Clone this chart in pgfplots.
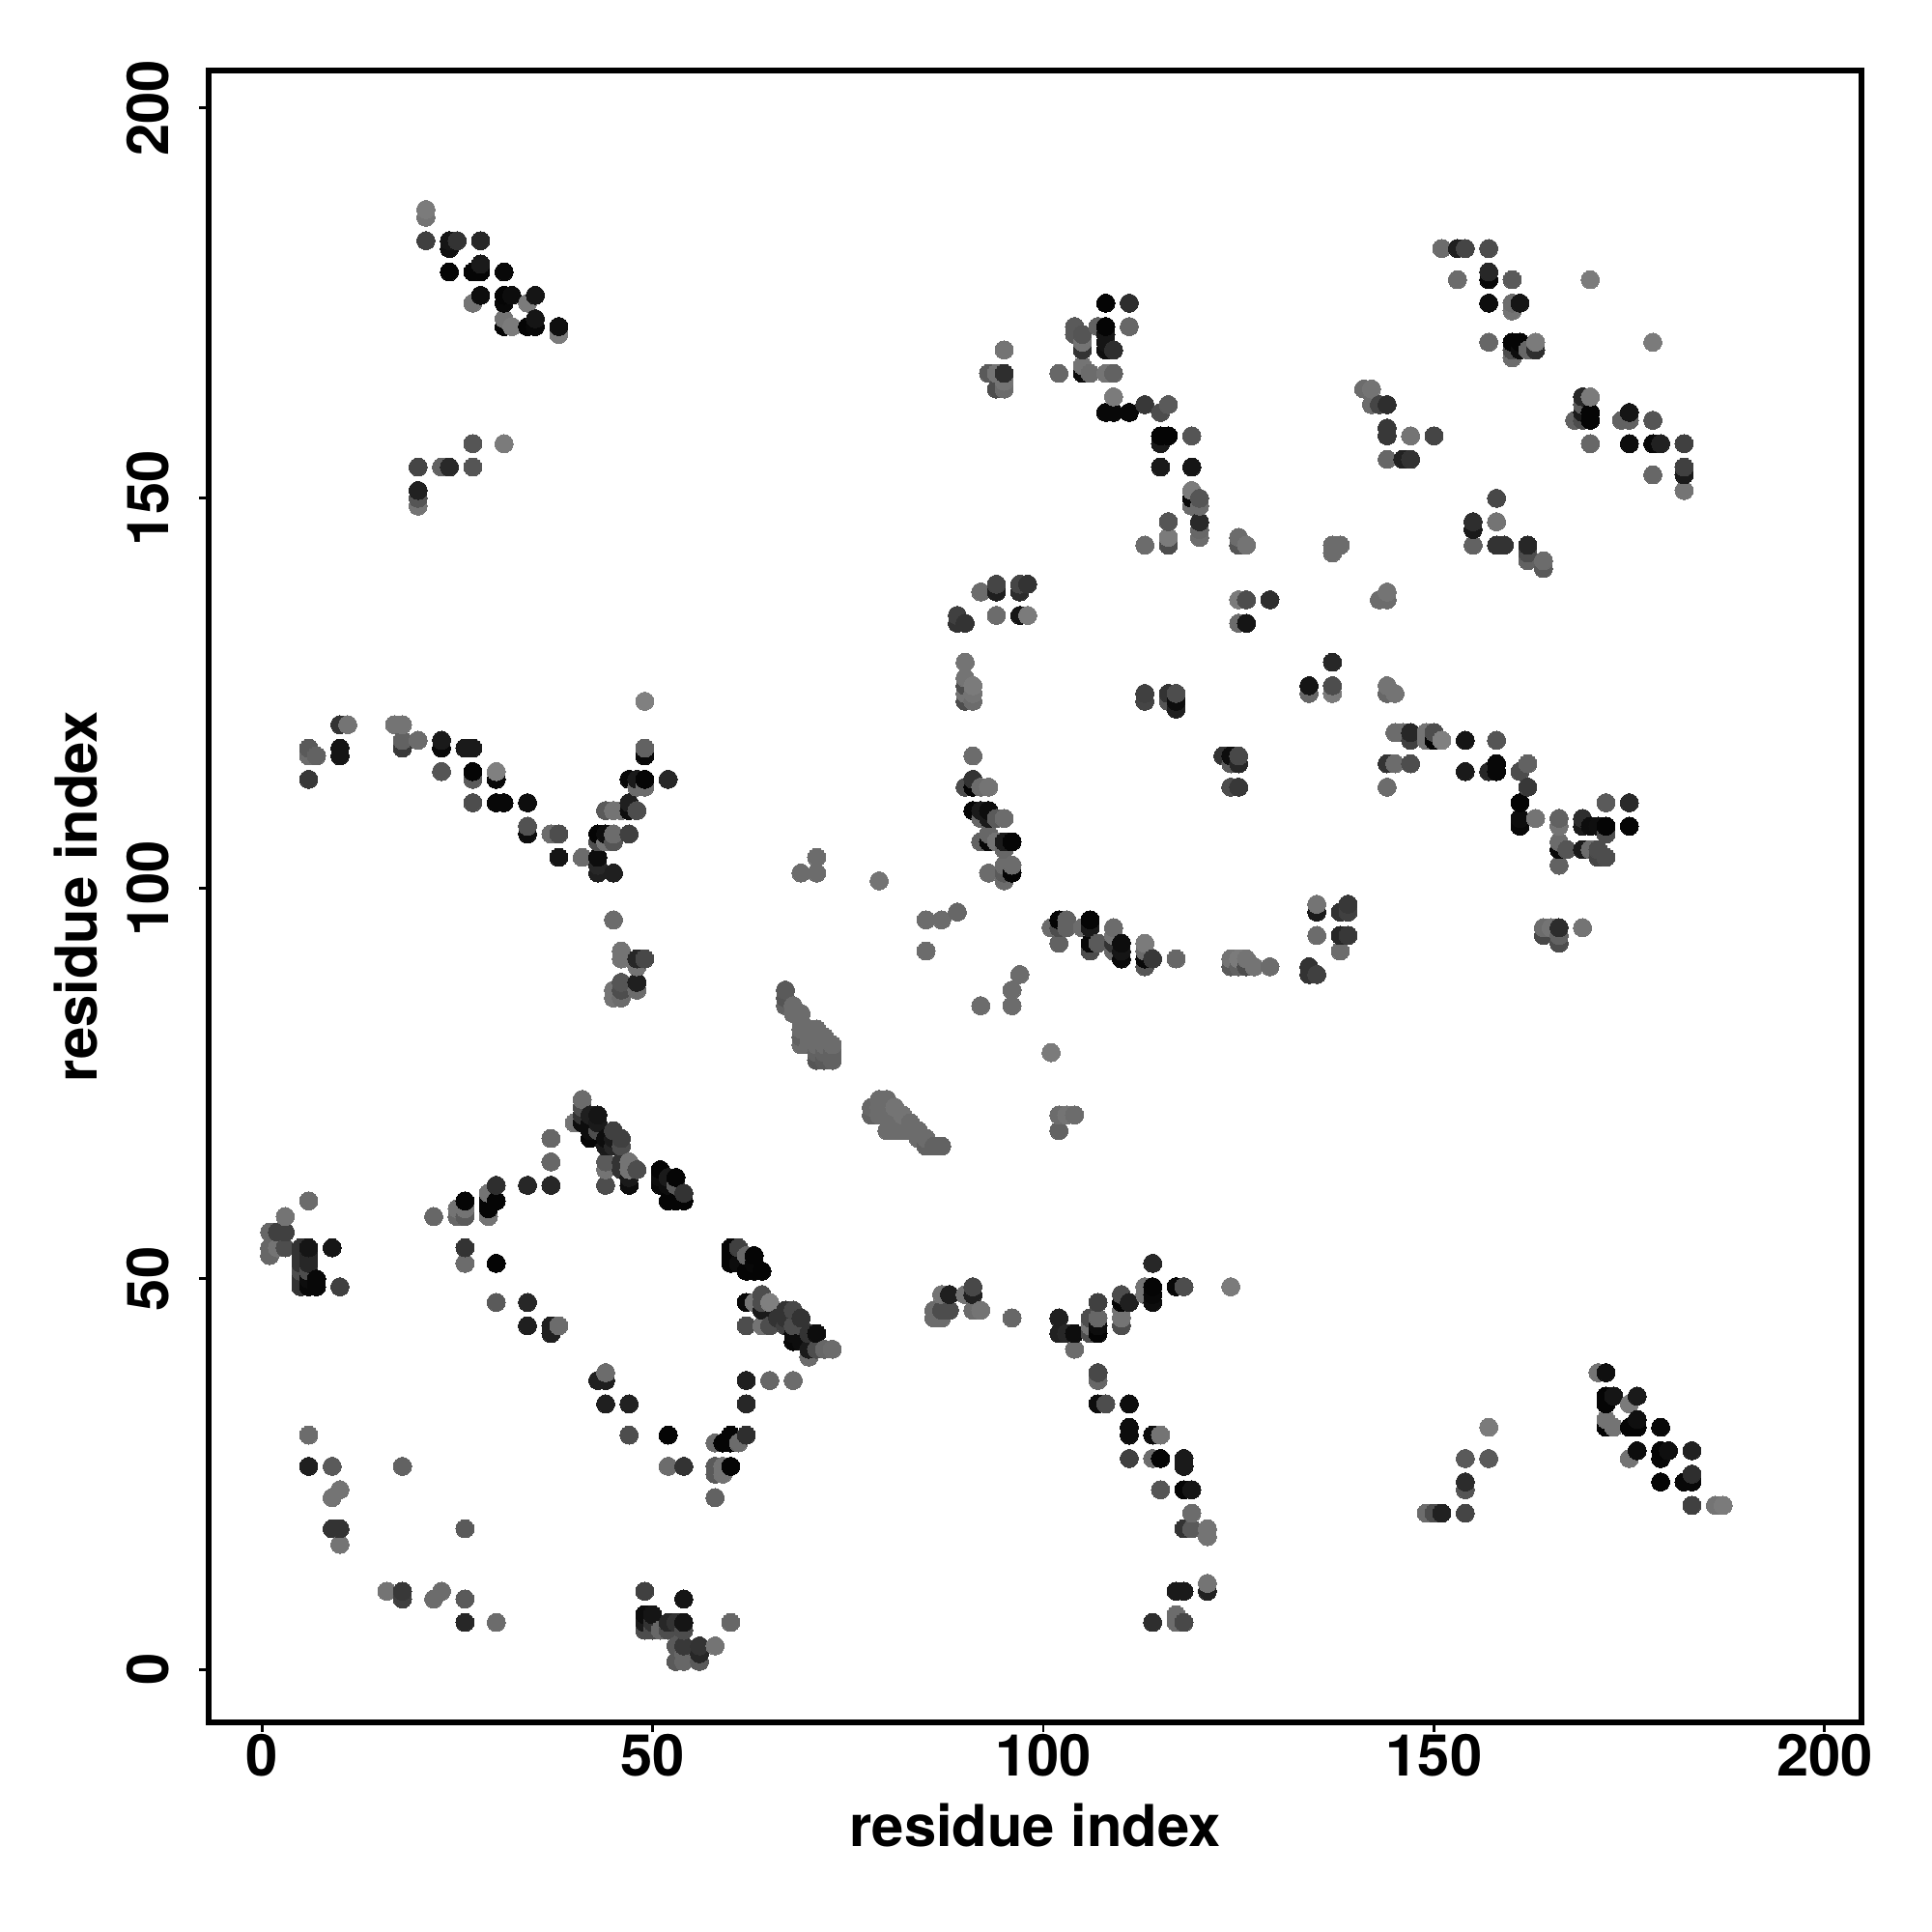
\documentclass[border=0pt]{standalone}
\usepackage{fontspec}
\setmainfont{TeX Gyre Heros}
\usepackage{pgfplots}
\pgfplotsset{compat=1.18}
\begin{document}
\begin{tikzpicture}
\useasboundingbox (0,0) rectangle (20cm,20cm);
\begin{axis}[
  at={(2.16cm,2.17cm)}, anchor=south west,
  scale only axis, width=17.11cm, height=17.10cm,
  xmin=-6.8, xmax=204.7, ymin=-6.8, ymax=204.8,
  xtick={0,50,100,150,200}, ytick={0,50,100,150,200},
  tick pos=left, tick align=outside, major tick length=1mm,
  axis line style={line width=1.6pt},
  tick style={black,line width=0.85pt},
  /pgf/number format/assume math mode=true,
  tick label style={font=\fontsize{17}{20}\selectfont\bfseries},
  x tick label style={anchor=center,yshift=-2.4mm},
  y tick label style={rotate=90,anchor=center,yshift=5.3mm},
  xlabel={residue index}, ylabel={residue index},
  label style={font=\fontsize{17}{20}\selectfont\bfseries},
  xlabel style={at={(rel axis cs:0.5,0)},anchor=center,yshift=-10.65mm},
  ylabel style={at={(rel axis cs:0,0.5)},anchor=center,yshift=13.7mm},
  colormap={bw}{gray(0cm)=(0);gray(1cm)=(1)},
  point meta min=0, point meta max=1,
]
\addplot[scatter, only marks, mark=*, mark size=0.94mm, point meta=explicit,
  scatter/use mapped color={draw=mapped color,fill=mapped color},
  mark options={line width=0pt}] coordinates {
(1,53)[0.4](1,54)[0.4](1,56)[0.4]
(2,54)[0.45](2,56)[0.25]
(3,54)[0.3](3,56)[0.25](3,58)[0.45]
(5,49)[0.2](5,50)[0.2](5,51)[0.3](5,52)[0.2](5,53)[0.2](5,54)[0.2]
(6,26)[0.12](6,30)[0.42](6,49)[0.03](6,50)[0.05](6,51)[0.3](6,52)[0.15](6,53)[0.15](6,54)[0.08](6,60)[0.42](6,114)[0.22](6,117)[0.42](6,118)[0.35]
(7,49)[0.03](7,50)[0.03](7,117)[0.38]
(9,18)[0.2](9,22)[0.45](9,26)[0.35](9,54)[0.08]
(10,16)[0.45](10,18)[0.2](10,23)[0.45](10,49)[0.25](10,117)[0.08](10,118)[0.08](10,121)[0.2]
(11,121)[0.45]
(16,10)[0.45]
(17,121)[0.45]
(18,9)[0.25](18,10)[0.22](18,26)[0.38](18,118)[0.22](18,119)[0.38](18,121)[0.45]
(20,119)[0.42](20,149)[0.45](20,150)[0.33](20,151)[0.13](20,154)[0.27]
(21,183)[0.25](21,186)[0.45](21,187)[0.48]
(22,9)[0.42](22,58)[0.4]
(23,10)[0.42](23,115)[0.33](23,118)[0.03](23,119)[0.1](23,154)[0.38]
(24,154)[0.16](24,179)[0.02](24,182)[0.06](24,183)[0.08]
(25,58)[0.4](25,59)[0.45](25,183)[0.2]
(26,6)[0.15](26,9)[0.35](26,18)[0.35](26,52)[0.42](26,54)[0.2](26,58)[0.35](26,59)[0.45](26,60)[0.02](26,118)[0.1]
(27,111)[0.3](27,114)[0.35](27,115)[0.02](27,118)[0.1](27,154)[0.33](27,157)[0.33](27,175)[0.45](27,179)[0.02]
(28,176)[0.05](28,179)[0.02](28,180)[0.1](28,183)[0.15]
(29,58)[0.45](29,59)[0.02](29,60)[0.02](29,61)[0.45]
(30,6)[0.42](30,47)[0.35](30,52)[0.02](30,60)[0.02](30,62)[0.18](30,111)[0.03](30,114)[0.03](30,115)[0.5]
(31,111)[0.03](31,157)[0.48](31,172)[0.02](31,173)[0.45](31,175)[0.03](31,176)[0.02](31,179)[0.03]
(32,172)[0.48](32,176)[0.05]
(34,44)[0.12](34,47)[0.15](34,62)[0.15](34,107)[0.05](34,108)[0.32](34,111)[0.05](34,172)[0.02](34,175)[0.48]
(35,172)[0.03](35,173)[0.08](35,176)[0.08]
(37,43)[0.12](37,44)[0.12](37,62)[0.15](37,65)[0.4](37,68)[0.4](37,107)[0.42]
(38,44)[0.42](38,104)[0.08](38,107)[0.3](38,171)[0.48](38,172)[0.06]
(40,70)[0.45]
(41,70)[0.05](41,71)[0.2](41,72)[0.3](41,73)[0.42](41,104)[0.42]
(42,68)[0.02](42,69)[0.05](42,70)[0.05](42,71)[0.12]
(43,37)[0.12](43,69)[0.3](43,70)[0.1](43,71)[0.08](43,102)[0.12](43,103)[0.15](43,104)[0.05](43,106)[0.3](43,107)[0.02]
(44,34)[0.12](44,37)[0.12](44,38)[0.42](44,62)[0.3](44,64)[0.45](44,65)[0.35](44,67)[0.1](44,68)[0.05](44,106)[0.45](44,107)[0.05](44,110)[0.35]
(45,67)[0.15](45,68)[0.1](45,69)[0.25](45,86)[0.45](45,87)[0.45](45,96)[0.42](45,102)[0.12](45,106)[0.33](45,107)[0.42](45,110)[0.45]
(46,64)[0.2](46,65)[0.2](46,67)[0.3](46,68)[0.25](46,86)[0.42](46,87)[0.3](46,88)[0.33](46,91)[0.45](46,92)[0.45](46,110)[0.45]
(47,30)[0.3](47,34)[0.13](47,62)[0.05](47,63)[0.1](47,64)[0.45](47,65)[0.45](47,107)[0.25](47,110)[0.05](47,111)[0.12](47,114)[0.03]
(48,64)[0.3](48,87)[0.42](48,88)[0.12](48,90)[0.45](48,91)[0.15](48,110)[0.3](48,113)[0.42](48,114)[0.1]
(49,5)[0.3](49,6)[0.1](49,7)[0.05](49,10)[0.25](49,91)[0.28](49,113)[0.42](49,114)[0.02](49,117)[0.03](49,118)[0.38](49,124)[0.5]
(50,5)[0.3](50,6)[0.2](50,7)[0.08]
(51,5)[0.4](51,62)[0.03](51,63)[0.05](51,64)[0.02]
(52,5)[0.3](52,6)[0.15](52,26)[0.42](52,30)[0.02](52,60)[0.02](52,62)[0.05](52,63)[0.1](52,114)[0.15]
(53,1)[0.35](53,3)[0.35](53,6)[0.2](53,60)[0.02](53,62)[0.35](53,63)[0.02]
(54,1)[0.4](54,2)[0.4](54,3)[0.22](54,5)[0.3](54,6)[0.08](54,9)[0.08](54,26)[0.2](54,60)[0.02](54,61)[0.2]
(56,1)[0.35](56,2)[0.15](56,3)[0.2]
(58,3)[0.45](58,22)[0.38](58,25)[0.35](58,26)[0.35](58,29)[0.42]
(59,25)[0.45](59,26)[0.45](59,29)[0.02]
(60,6)[0.4](60,26)[0.02](60,29)[0.02](60,30)[0.02](60,52)[0.02](60,53)[0.02](60,54)[0.02]
(61,29)[0.42](61,52)[0.05](61,54)[0.25]
(62,30)[0.18](62,34)[0.15](62,37)[0.12](62,44)[0.3](62,47)[0.03](62,51)[0.02](62,53)[0.4]
(63,47)[0.45](63,51)[0.02](63,52)[0.03](63,53)[0.02]
(64,44)[0.45](64,46)[0.1](64,47)[0.3](64,48)[0.3](64,51)[0.02]
(65,37)[0.4](65,44)[0.3](65,47)[0.5]
(66,45)[0.2]
(67,44)[0.25](67,45)[0.2](67,46)[0.2](67,85)[0.38](67,86)[0.33](67,87)[0.35]
(68,37)[0.42](68,42)[0.03](68,43)[0.05](68,44)[0.3](68,46)[0.28](68,84)[0.42](68,85)[0.42]
(69,42)[0.05](69,44)[0.3](69,45)[0.2](69,80)[0.42](69,81)[0.38](69,82)[0.42](69,83)[0.42](69,84)[0.42](69,102)[0.42]
(70,40)[0.42](70,41)[0.1](70,43)[0.2](70,80)[0.42](70,81)[0.42](70,82)[0.42]
(71,41)[0.3](71,43)[0.05](71,78)[0.33](71,79)[0.38](71,80)[0.42](71,81)[0.42](71,82)[0.42](71,102)[0.42](71,104)[0.42]
(72,41)[0.4](72,78)[0.35](72,79)[0.38](72,80)[0.42](72,81)[0.42]
(73,41)[0.42](73,78)[0.38](73,79)[0.38](73,80)[0.42]
(78,71)[0.38](78,72)[0.4]
(79,71)[0.42](79,72)[0.42](79,73)[0.42](79,101)[0.45]
(80,69)[0.42](80,71)[0.42](80,72)[0.42](80,73)[0.42]
(81,69)[0.42](81,70)[0.42](81,71)[0.42](81,72)[0.45]
(82,69)[0.42](82,70)[0.42](82,71)[0.45]
(83,69)[0.42](83,70)[0.42]
(84,68)[0.42](84,69)[0.42]
(85,67)[0.38](85,68)[0.42](85,92)[0.42](85,96)[0.42]
(86,45)[0.42](86,46)[0.42](86,67)[0.38]
(87,45)[0.42](87,46)[0.3](87,48)[0.45](87,67)[0.38](87,96)[0.42]
(88,46)[0.3](88,48)[0.12]
(89,97)[0.4](89,134)[0.2](89,135)[0.25]
(90,48)[0.45](90,113)[0.3](90,124)[0.3](90,125)[0.45](90,126)[0.3](90,127)[0.45](90,129)[0.45](90,134)[0.2]
(91,46)[0.42](91,48)[0.13](91,49)[0.28](91,110)[0.02](91,113)[0.02](91,114)[0.2](91,117)[0.42](91,124)[0.42](91,125)[0.45](91,126)[0.48]
(92,46)[0.45](92,85)[0.42](92,106)[0.38](92,109)[0.4](92,110)[0.1](92,113)[0.42](92,138)[0.42]
(93,102)[0.42](93,106)[0.03](93,107)[0.4](93,109)[0.1](93,110)[0.05](93,113)[0.45](93,166)[0.35]
(94,106)[0.45](94,109)[0.35](94,135)[0.42](94,138)[0.12](94,139)[0.27](94,164)[0.3](94,166)[0.45]
(95,101)[0.42](95,102)[0.35](95,103)[0.42](95,105)[0.4](95,106)[0.1](95,109)[0.42](95,164)[0.42](95,165)[0.45](95,166)[0.18](95,169)[0.45]
(96,45)[0.4](96,85)[0.42](96,87)[0.42](96,102)[0.02](96,103)[0.42](96,106)[0.02]
(97,89)[0.42](97,135)[0.08](97,138)[0.17](97,139)[0.27]
(98,135)[0.48](98,139)[0.2]
(101,79)[0.48](101,95)[0.42]
(102,43)[0.13](102,45)[0.12](102,69)[0.38](102,71)[0.42](102,93)[0.38](102,95)[0.3](102,96)[0.02](102,166)[0.4]
(103,43)[0.15](103,71)[0.45](103,95)[0.38](103,96)[0.38]
(104,41)[0.42](104,43)[0.05](104,71)[0.42](104,171)[0.35](104,172)[0.35]
(105,95)[0.42](105,166)[0.05](105,167)[0.45](105,169)[0.2](105,170)[0.45](105,171)[0.33]
(106,43)[0.3](106,44)[0.45](106,45)[0.3](106,92)[0.3](106,93)[0.03](106,95)[0.1](106,96)[0.02](106,166)[0.42]
(107,34)[0.05](107,37)[0.4](107,38)[0.28](107,43)[0.02](107,44)[0.05](107,45)[0.4](107,47)[0.25](107,93)[0.35](107,172)[0.38]
(108,34)[0.3](108,161)[0.03](108,166)[0.45](108,169)[0.06](108,170)[0.08](108,171)[0.08](108,172)[0.02](108,175)[0.02]
(109,92)[0.4](109,93)[0.2](109,94)[0.45](109,95)[0.42](109,161)[0.03](109,163)[0.48](109,166)[0.38](109,169)[0.18]
(110,44)[0.3](110,45)[0.45](110,46)[0.45](110,47)[0.02](110,48)[0.3](110,91)[0.03](110,92)[0.08](110,93)[0.05]
(111,27)[0.25](111,30)[0.05](111,31)[0.05](111,34)[0.05](111,47)[0.12](111,161)[0.03](111,172)[0.4](111,175)[0.18]
(113,48)[0.45](113,49)[0.45](113,90)[0.33](113,91)[0.03](113,92)[0.42](113,93)[0.48](113,124)[0.27](113,125)[0.25](113,144)[0.42](113,162)[0.22]
(114,6)[0.18](114,27)[0.42](114,30)[0.05](114,47)[0.05](114,48)[0.03](114,49)[0.02](114,52)[0.15](114,91)[0.22]
(115,23)[0.33](115,27)[0.02](115,30)[0.45](115,154)[0.1](115,157)[0.1](115,158)[0.02](115,161)[0.3]
(116,124)[0.33](116,125)[0.2](116,144)[0.3](116,145)[0.48](116,147)[0.33](116,158)[0.02](116,162)[0.35]
(117,6)[0.42](117,7)[0.42](117,10)[0.1](117,49)[0.03](117,91)[0.4](117,123)[0.12](117,124)[0.05](117,125)[0.3]
(118,6)[0.28](118,10)[0.1](118,18)[0.2](118,23)[0.02](118,26)[0.1](118,27)[0.1](118,49)[0.3]
(119,18)[0.35](119,20)[0.42](119,23)[0.08](119,149)[0.42](119,150)[0.03](119,151)[0.48](119,154)[0.08](119,158)[0.33]
(120,145)[0.42](120,146)[0.4](120,147)[0.16](120,149)[0.42](120,150)[0.33]
(121,10)[0.13](121,11)[0.45](121,17)[0.45](121,18)[0.45]
(123,117)[0.2]
(124,49)[0.48](124,90)[0.35](124,91)[0.45](124,113)[0.3](124,116)[0.35](124,117)[0.05]
(125,90)[0.38](125,91)[0.48](125,113)[0.22](125,116)[0.15](125,117)[0.28](125,134)[0.42](125,137)[0.48](125,144)[0.33](125,145)[0.42]
(126,90)[0.3](126,91)[0.45](126,134)[0.08](126,137)[0.3](126,144)[0.45]
(127,90)[0.45]
(129,90)[0.42](129,137)[0.18]
(134,89)[0.2](134,90)[0.2](134,125)[0.4](134,126)[0.08]
(135,89)[0.25](135,94)[0.42](135,97)[0.1](135,98)[0.45]
(137,125)[0.48](137,126)[0.3](137,129)[0.15](137,143)[0.42](137,144)[0.42]
(138,92)[0.42](138,94)[0.15](138,97)[0.2](138,144)[0.42]
(139,94)[0.22](139,97)[0.25](139,98)[0.22]
(141,164)[0.42]
(142,162)[0.42](142,164)[0.45]
(143,137)[0.42](143,162)[0.27]
(144,113)[0.42](144,116)[0.2](144,125)[0.4](144,126)[0.45](144,137)[0.42](144,138)[0.45](144,155)[0.4](144,158)[0.22](144,159)[0.22](144,162)[0.18]
(145,116)[0.42](145,120)[0.42](145,125)[0.45]
(146,120)[0.42](146,155)[0.13]
(147,116)[0.3](147,119)[0.25](147,120)[0.15](147,155)[0.2](147,158)[0.45]
(149,20)[0.42](149,119)[0.45](149,120)[0.45]
(150,20)[0.3](150,119)[0.02](150,120)[0.3](150,158)[0.27]
(151,20)[0.13](151,119)[0.5](151,182)[0.42]
(153,178)[0.42](153,182)[0.12]
(154,20)[0.27](154,23)[0.33](154,24)[0.17](154,27)[0.35](154,115)[0.1](154,119)[0.08](154,182)[0.27]
(155,144)[0.38](155,146)[0.1](155,147)[0.18]
(157,27)[0.35](157,31)[0.48](157,115)[0.15](157,170)[0.4](157,175)[0.05](157,178)[0.03](157,179)[0.15](157,182)[0.3]
(158,115)[0.03](158,116)[0.03](158,119)[0.33](158,144)[0.2](158,147)[0.45](158,150)[0.28]
(159,144)[0.2]
(160,168)[0.42](160,169)[0.3](160,170)[0.02](160,174)[0.45](160,175)[0.42](160,178)[0.35]
(161,108)[0.03](161,109)[0.05](161,111)[0.02](161,115)[0.3](161,169)[0.05](161,170)[0.02](161,175)[0.08]
(162,113)[0.22](162,116)[0.38](162,142)[0.38](162,143)[0.3](162,144)[0.15](162,169)[0.4]
(163,109)[0.45](163,169)[0.18](163,170)[0.48]
(164,94)[0.28](164,95)[0.42](164,141)[0.35](164,142)[0.42]
(165,95)[0.45]
(166,93)[0.3](166,94)[0.38](166,95)[0.17](166,103)[0.38](166,105)[0.03](166,106)[0.42](166,108)[0.45](166,109)[0.38]
(167,105)[0.33]
(168,160)[0.38]
(169,95)[0.45](169,105)[0.1](169,108)[0.1](169,109)[0.18](169,160)[0.3](169,161)[0.1](169,162)[0.35](169,163)[0.15]
(170,105)[0.42](170,108)[0.05](170,157)[0.4](170,160)[0.02](170,161)[0.02](170,163)[0.48](170,178)[0.48]
(171,38)[0.45](171,104)[0.27](171,105)[0.3](171,108)[0.06]
(172,31)[0.02](172,32)[0.45](172,34)[0.02](172,35)[0.02](172,38)[0.06](172,104)[0.3](172,107)[0.3](172,108)[0.02](172,111)[0.35]
(173,31)[0.45](173,35)[0.08]
(174,160)[0.38]
(175,27)[0.45](175,31)[0.02](175,34)[0.48](175,108)[0.02](175,111)[0.16](175,157)[0.05](175,160)[0.38](175,161)[0.08]
(176,28)[0.05](176,31)[0.02](176,32)[0.06](176,35)[0.1]
(178,153)[0.4](178,157)[0.03](178,160)[0.33](178,170)[0.48]
(179,24)[0.02](179,27)[0.03](179,28)[0.02](179,31)[0.03](179,157)[0.13]
(180,28)[0.06]
(182,24)[0.03](182,151)[0.45](182,153)[0.1](182,154)[0.25](182,157)[0.25]
(183,21)[0.25](183,24)[0.03](183,25)[0.18](183,28)[0.13]
(186,21)[0.45]
(187,21)[0.48]
};
\end{axis}
\end{tikzpicture}
\end{document}
